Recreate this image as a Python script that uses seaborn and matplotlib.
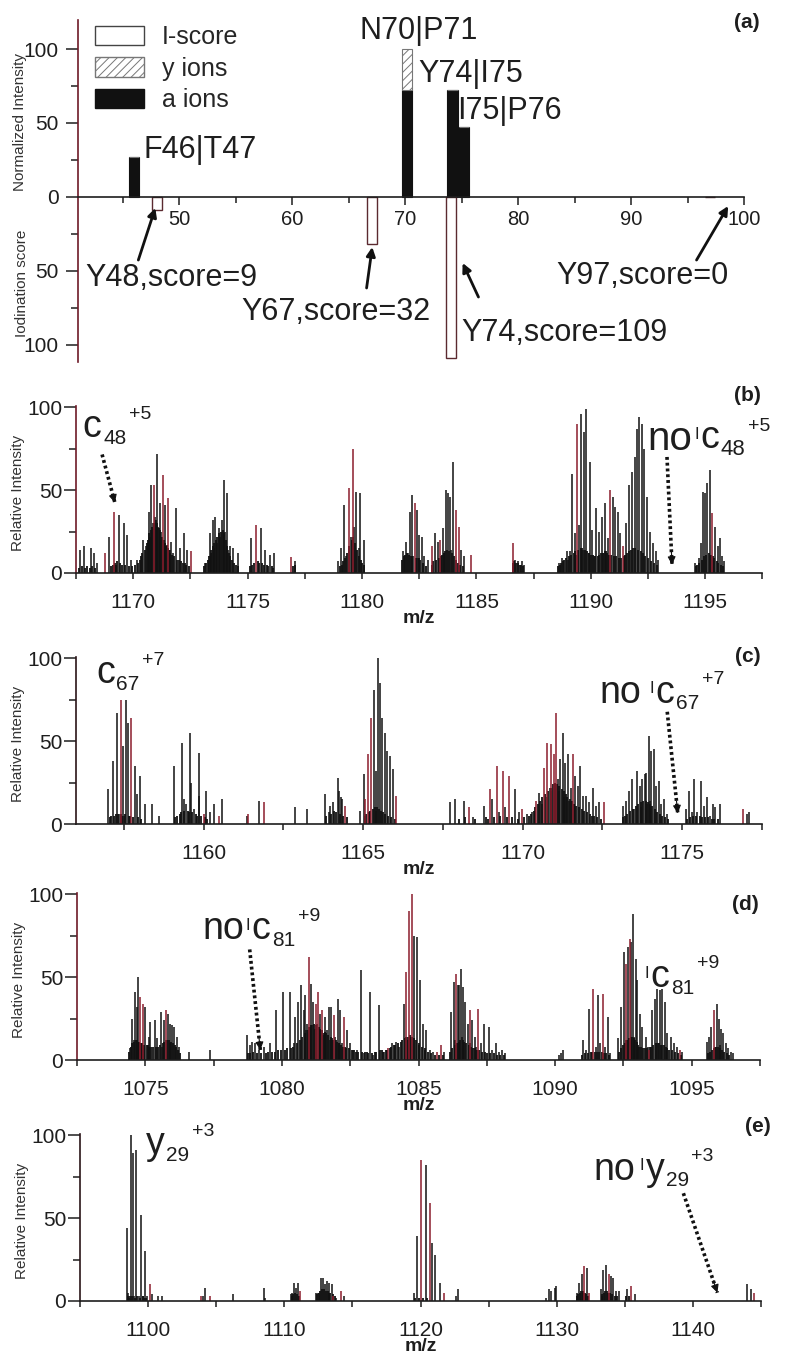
import matplotlib
matplotlib.use("Agg")
import matplotlib.pyplot as plt
import matplotlib.transforms as mtransforms
from matplotlib.patches import Patch
from matplotlib.ticker import MultipleLocator, FixedLocator
import seaborn as sns

sns.set_theme(style="ticks")
plt.rcParams["font.family"] = ["Liberation Sans", "DejaVu Sans"]
plt.rcParams["hatch.linewidth"] = 0.7

# ---------------- data : panel (a) ----------------
cleavage_sites = ["F46|T47", "N70|P71", "Y74|I75", "I75|P76"]
cleavage_pos = [46.0, 70.2, 74.2, 75.2]
a_ion_int = [27, 72, 72.5, 47]
y_ion_int = [0, 28, 0, 0]
tyr_sites = ["Y48", "Y67", "Y74", "Y97"]
tyr_pos = [48.05, 67.1, 74.05, 97.0]
iod_score = [9, 32, 109, 0]

# ---------------- data : panel (b) ----------------
b_mz_k = [1167.68, 1167.83, 1168.15, 1168.27, 1168.41, 1168.95, 1169.36, 1169.58, 1169.72, 1169.91,
          1170.16, 1170.45, 1170.55, 1170.67, 1170.72, 1170.79, 1170.85, 1170.97, 1171.03, 1171.08,
          1171.15, 1171.22, 1171.35, 1171.40, 1171.48, 1171.60, 1171.66, 1171.75, 1171.88, 1172.05,
          1172.20, 1172.35, 1173.15, 1173.34, 1173.47, 1173.52, 1173.58, 1173.65, 1173.73, 1173.80,
          1173.88, 1173.96, 1174.00, 1174.10, 1174.15, 1174.21, 1174.36, 1174.56, 1175.14, 1175.58,
          1175.77, 1175.96, 1176.16, 1177.09, 1178.97, 1179.08, 1179.22, 1179.30, 1179.50, 1179.66,
          1179.75, 1179.85, 1179.92, 1180.10,
          1181.81, 1181.93, 1182.00, 1182.08, 1182.18, 1182.25, 1182.40, 1182.45, 1182.51, 1182.62,
          1182.72, 1182.88, 1183.17, 1183.30, 1183.53, 1183.60, 1183.67, 1183.78, 1183.85, 1183.90,
          1183.97, 1184.32, 1184.47, 1186.70, 1186.84, 1186.99, 1187.09, 1188.59, 1188.74, 1188.95,
          1189.00, 1189.10, 1189.20, 1189.29, 1189.35, 1189.49, 1189.59, 1189.65, 1189.71, 1189.80,
          1189.90, 1189.97, 1190.07, 1190.15, 1190.24, 1190.38, 1190.48, 1190.55, 1190.63, 1190.75,
          1190.95, 1191.07, 1191.18, 1191.29, 1191.55, 1191.69, 1191.81, 1191.91, 1192.01, 1192.12,
          1192.23, 1192.33, 1192.45, 1192.57, 1192.71, 1192.83, 1192.92, 1194.56, 1194.71, 1194.81,
          1194.90, 1195.00, 1195.10, 1195.22, 1195.44, 1195.54, 1195.63, 1195.73, 1195.80]
b_int_k = [14, 16, 15, 12, 6, 22, 35, 30, 23, 8,
           8, 20, 16, 37, 22, 53, 30, 34, 72, 28,
           42, 25, 20, 41, 17, 14, 19, 12, 39, 15,
           24, 14, 6, 24, 32, 15, 34, 18, 27, 22,
           32, 56, 25, 48, 14, 16, 15, 12, 21, 27,
           14, 11, 12, 7, 7, 15, 41, 10, 22, 28,
           49, 15, 48, 20,
           13, 19, 12, 37, 47, 10, 38, 9, 23, 22,
           10, 8, 24, 19, 27, 12, 50, 48, 46, 14,
           67, 14, 10, 8, 7, 7, 5, 6, 9, 13,
           8, 13, 60, 24, 11, 29, 96, 14, 85, 99,
           12, 67, 26, 10, 39, 25, 34, 12, 42, 21,
           46, 40, 37, 24, 30, 53, 61, 70, 87, 94,
           90, 75, 46, 25, 18, 13, 8, 6, 9, 18,
           49, 48, 54, 62, 28, 16, 21, 10, 7]
b_mz_r = [1168.75, 1169.17, 1170.89, 1171.30, 1171.54, 1172.52, 1175.38, 1176.91, 1179.41, 1179.59,
          1182.30, 1183.08, 1183.42, 1184.09, 1184.22, 1184.76, 1186.59, 1189.39, 1190.85, 1191.39,
          1195.31]
b_int_r = [12, 37, 53, 59, 45, 13, 29, 9.5, 51, 75,
           42, 16, 20, 38, 28, 11, 18, 90, 50, 16,
           36]
# dense low-level signal under the isotope clusters of (b)
b_base_mz = [1167.65, 1167.75, 1167.90, 1168.00, 1168.10, 1168.20, 1168.35,
             1169.05, 1169.10, 1169.20, 1169.25, 1169.30, 1169.42, 1169.50, 1169.65, 1169.80, 1169.95,
             1170.10, 1170.20, 1170.30, 1170.35, 1170.40, 1170.50, 1170.60, 1170.63, 1170.70, 1170.76,
             1170.82, 1170.92, 1171.00, 1171.05, 1171.12, 1171.18, 1171.26, 1171.32, 1171.38, 1171.44,
             1171.50, 1171.57, 1171.63, 1171.70, 1171.80, 1171.92, 1172.00, 1172.10, 1172.18, 1172.25,
             1172.30, 1172.42,
             1173.10, 1173.20, 1173.25, 1173.30, 1173.38, 1173.42, 1173.50, 1173.55, 1173.62, 1173.68,
             1173.76, 1173.83, 1173.92, 1173.99, 1174.05, 1174.12, 1174.18, 1174.25, 1174.30, 1174.40,
             1174.48, 1174.60,
             1175.10, 1175.20, 1175.30, 1175.45, 1175.52, 1175.65, 1175.70, 1175.85, 1175.90, 1176.05,
             1176.10, 1177.00, 1177.05,
             1179.05, 1179.12, 1179.18, 1179.25, 1179.35, 1179.45, 1179.55, 1179.62, 1179.70, 1179.80,
             1179.88, 1179.95, 1180.02, 1180.07,
             1181.75, 1181.85, 1181.90, 1181.97, 1182.05, 1182.12, 1182.20, 1182.35, 1182.48, 1182.55,
             1182.68, 1182.80,
             1183.05, 1183.12, 1183.22, 1183.35, 1183.45, 1183.50, 1183.58, 1183.64, 1183.72, 1183.82,
             1183.93, 1184.02, 1184.12, 1184.20, 1184.28, 1184.40,
             1186.62, 1186.66, 1186.75, 1186.80, 1186.90, 1186.95, 1187.05,
             1188.55, 1188.65, 1188.70, 1188.80, 1188.85, 1188.90, 1189.05, 1189.15, 1189.25, 1189.32,
             1189.45, 1189.55, 1189.62, 1189.75, 1189.85, 1189.93, 1190.02, 1190.10, 1190.20, 1190.30,
             1190.35, 1190.43, 1190.52, 1190.60, 1190.68, 1190.72, 1190.80, 1190.90, 1191.00, 1191.12,
             1191.22, 1191.33, 1191.45, 1191.50, 1191.60, 1191.65, 1191.75, 1191.85, 1191.95, 1192.05,
             1192.18, 1192.28, 1192.38, 1192.50, 1192.62, 1192.75, 1192.88,
             1194.60, 1194.65, 1194.75, 1194.85, 1194.95, 1195.05, 1195.15, 1195.27, 1195.35, 1195.40,
             1195.50, 1195.58, 1195.68, 1195.76]
b_base_int = [3, 4, 3, 4, 3, 4, 3,
              4, 5, 6, 5, 7, 6, 5, 5, 4, 4,
              5, 6, 8, 10, 12, 14, 18, 20, 24, 26,
              28, 30, 32, 30, 27, 26, 22, 20, 18, 16,
              15, 14, 12, 11, 10, 8, 8, 7, 6, 6,
              5, 4,
              4, 6, 8, 10, 12, 14, 16, 18, 20, 22,
              24, 25, 26, 24, 20, 16, 12, 10, 8, 6,
              5, 4,
              4, 5, 6, 7, 6, 6, 5, 5, 4, 4,
              3, 4, 5,
              4, 5, 7, 9, 12, 16, 20, 22, 18, 14,
              10, 8, 6, 5,
              8, 10, 11, 12, 11, 10, 10, 9, 9, 8,
              6, 4,
              5, 7, 8, 9, 10, 11, 12, 13, 14, 13,
              12, 10, 8, 6, 5, 4,
              6, 7, 6, 6, 5, 5, 4,
              4, 5, 6, 7, 8, 9, 10, 11, 12, 13,
              14, 15, 15, 14, 13, 12, 11, 11, 10, 10,
              11, 12, 12, 13, 13, 12, 11, 11, 10, 10,
              9, 9, 10, 11, 12, 13, 14, 15, 15, 14,
              13, 12, 10, 9, 7, 6, 5,
              4, 5, 6, 8, 10, 11, 12, 11, 10, 9,
              7, 6, 5, 4]

# ---------------- data : panel (c) ----------------
c_mz_k = [1157.00, 1157.15, 1157.28, 1157.35, 1157.47, 1157.50, 1157.58, 1157.62, 1157.86, 1157.91,
          1158.02, 1158.17, 1158.38, 1158.59, 1159.08, 1159.32, 1159.37, 1159.46, 1159.58, 1159.61,
          1159.69, 1159.84, 1159.87, 1160.08, 1160.19, 1160.34, 1160.58, 1161.36, 1161.72, 1162.85,
          1163.24, 1163.79, 1163.92, 1163.97, 1164.06, 1164.20, 1164.23, 1164.31, 1164.35, 1164.89,
          1165.02, 1165.33, 1165.40, 1165.41, 1165.47, 1165.52, 1165.59, 1165.70, 1165.75, 1165.83,
          1165.94, 1167.73, 1167.87, 1168.15, 1168.45, 1168.78, 1169.04, 1169.25, 1169.46, 1169.77,
          1169.88, 1170.14, 1170.29, 1170.52, 1170.60, 1170.75, 1170.85, 1170.90, 1171.00, 1171.11,
          1171.15, 1171.18, 1171.27, 1171.30, 1171.34, 1171.42, 1171.45, 1171.50, 1171.60, 1171.65,
          1171.73, 1171.81, 1171.89, 1171.97, 1172.08, 1172.21, 1172.29, 1172.38, 1173.13, 1173.23,
          1173.32, 1173.41, 1173.50, 1173.59, 1173.67, 1173.70, 1173.74, 1173.82, 1173.88, 1173.90,
          1173.95, 1174.00, 1174.03, 1174.11, 1174.18, 1174.26, 1174.34, 1174.44, 1174.52, 1175.13,
          1175.21, 1175.30, 1175.38, 1175.46, 1175.59, 1175.67, 1175.78, 1175.86, 1175.97, 1176.04,
          1176.18, 1177.02, 1177.08]
c_int_k = [21, 38, 67, 6, 47, 5, 75, 61, 35, 18,
           29, 12, 12, 5, 35, 49, 15, 12, 55, 25,
           9, 43, 17, 20, 7, 12, 15, 5, 14, 10,
           9, 18, 7, 11, 13, 28, 20, 16, 15, 8,
           30, 81, 8, 32, 100, 85, 64, 55, 44, 41,
           33, 13, 15, 14, 4, 11, 15, 7, 10, 21,
           7, 6, 7, 19, 12, 16, 22, 20, 24, 27,
           20, 39, 55, 16, 37, 42, 14, 22, 12, 29,
           23, 35, 17, 17, 13, 22, 11, 13, 11, 14,
           20, 27, 9, 32, 23, 10, 27, 30, 31, 12,
           53, 14, 44, 45, 23, 26, 12, 15, 6, 9,
           20, 7, 27, 7, 26, 11, 16, 5, 12, 10,
           12, 6, 7]
c_mz_r = [1157.42, 1157.72, 1160.00, 1160.47, 1161.40, 1161.88, 1164.44, 1165.07, 1165.14, 1165.25,
          1166.04, 1168.33, 1168.97, 1169.18, 1169.37, 1169.57, 1169.98, 1170.42, 1170.66, 1170.77,
          1170.89, 1170.97, 1171.05, 1171.57, 1172.54, 1176.91]
c_int_r = [75, 64, 6, 5, 6, 13, 11, 15, 42, 64,
           17, 10, 21, 35, 32, 29, 9, 14, 34, 49,
           48, 42, 67, 42, 13, 9]
c_base_mz = [1157.05, 1157.10, 1157.20, 1157.25, 1157.32, 1157.40, 1157.45, 1157.55, 1157.65, 1157.70,
             1157.80, 1157.95, 1158.05,
             1159.10, 1159.15, 1159.25, 1159.30, 1159.40, 1159.50, 1159.55, 1159.65, 1159.75, 1159.80,
             1159.93, 1160.05, 1160.12,
             1163.85, 1164.00, 1164.10, 1164.15, 1164.27, 1164.38, 1164.48,
             1165.05, 1165.10, 1165.18, 1165.22, 1165.30, 1165.37, 1165.44, 1165.50, 1165.56, 1165.63,
             1165.67, 1165.78, 1165.88, 1166.00,
             1168.00, 1168.20, 1168.50, 1168.85, 1168.90, 1169.10, 1169.30, 1169.50, 1169.65, 1169.85,
             1170.05,
             1170.20, 1170.25, 1170.35, 1170.40, 1170.47, 1170.55, 1170.62, 1170.70, 1170.80, 1170.88,
             1170.95, 1171.02, 1171.08, 1171.14, 1171.22, 1171.28, 1171.36, 1171.40, 1171.48, 1171.55,
             1171.62, 1171.68, 1171.76, 1171.85, 1171.93, 1172.02, 1172.12, 1172.18, 1172.25, 1172.33,
             1172.45,
             1173.15, 1173.20, 1173.28, 1173.35, 1173.45, 1173.55, 1173.62, 1173.72, 1173.78, 1173.85,
             1173.92, 1173.98, 1174.06, 1174.14, 1174.22, 1174.30, 1174.38, 1174.47, 1174.56,
             1175.15, 1175.25, 1175.35, 1175.42, 1175.55, 1175.62, 1175.72, 1175.82, 1175.92, 1176.00,
             1176.12]
c_base_int = [4, 5, 5, 6, 6, 6, 5, 6, 5, 5,
              4, 4, 3,
              4, 5, 6, 7, 8, 8, 7, 7, 6, 5,
              5, 4, 3,
              5, 6, 8, 7, 6, 5, 4,
              5, 6, 7, 8, 9, 10, 10, 9, 8, 7,
              6, 5, 4, 3,
              3, 4, 3, 4, 3, 4, 5, 4, 4, 3,
              4,
              5, 6, 8, 10, 12, 14, 16, 18, 20, 22,
              24, 25, 24, 23, 21, 20, 18, 16, 15, 14,
              12, 11, 10, 9, 8, 7, 6, 5, 5, 4,
              3,
              4, 5, 6, 8, 9, 11, 12, 13, 14, 14,
              13, 12, 11, 9, 7, 6, 5, 4, 3,
              3, 4, 5, 5, 5, 4, 4, 4, 3, 3,
              3]

# ---------------- data : panel (d) ----------------
d_mz_k = [1074.43, 1074.53, 1074.60, 1074.63, 1074.70, 1074.73, 1074.80, 1074.90, 1075.00, 1075.12,
          1075.18, 1075.34, 1075.43, 1075.57, 1075.60, 1075.70, 1075.75, 1075.82, 1075.89, 1075.90,
          1075.98, 1076.06, 1076.16, 1076.23, 1076.59, 1077.36, 1078.72, 1078.82, 1078.91, 1079.03,
          1079.15, 1079.33, 1079.55, 1079.80, 1080.04, 1080.29, 1080.44, 1080.49, 1080.59, 1080.70,
          1080.80, 1080.86, 1080.90, 1080.92, 1081.00, 1081.07, 1081.10, 1081.14, 1081.20, 1081.30,
          1081.41, 1081.50, 1081.59, 1081.65, 1081.71, 1081.75, 1081.81, 1081.95, 1082.04, 1082.14,
          1082.20, 1082.39, 1082.50, 1082.61, 1082.75, 1082.88, 1083.00, 1083.21, 1083.35, 1083.55,
          1083.75, 1084.04, 1084.19, 1084.30, 1084.46, 1084.60, 1084.70, 1084.85, 1084.95, 1085.07,
          1085.17, 1085.29, 1085.42, 1085.54, 1085.93, 1086.20, 1086.29, 1086.35, 1086.45, 1086.50,
          1086.56, 1086.60, 1086.64, 1086.72, 1086.80, 1086.90, 1086.97, 1087.05, 1087.10, 1087.27,
          1087.39, 1087.58, 1087.70, 1087.82, 1087.95, 1088.07, 1088.17, 1090.14, 1090.23, 1090.30,
          1091.03, 1091.12, 1091.24, 1091.48, 1091.57, 1091.66, 1091.84, 1091.93, 1092.02, 1092.32,
          1092.43, 1092.52, 1092.60, 1092.67, 1092.78, 1092.86, 1092.90, 1092.95, 1093.01, 1093.11,
          1093.19, 1093.32, 1093.40, 1093.56, 1093.64, 1093.70, 1093.74, 1093.84, 1093.90, 1093.93,
          1094.01, 1094.11, 1094.23, 1094.35, 1094.45, 1094.66, 1095.55, 1095.63, 1095.72, 1095.85,
          1095.92, 1096.00, 1096.05, 1096.09, 1096.16, 1096.25, 1096.34, 1096.43, 1096.52]
d_int_k = [7, 25, 12, 41, 32, 50, 10, 9, 32, 14,
           23, 24, 13, 29, 8, 24, 12, 28, 22, 10,
           21, 20, 14, 8, 5, 6, 15, 9, 11, 10,
           6, 8, 10, 30, 41, 41, 10, 26, 35, 45,
           30, 39, 18, 22, 20, 46, 21, 35, 19, 22,
           28, 15, 26, 18, 32, 12, 32, 14, 37, 30,
           10, 18, 10, 6, 6, 54, 4, 41, 3, 33,
           5, 10, 11, 8, 34, 12, 14, 75, 74, 48,
           22, 18, 6, 5, 5, 29, 47, 12, 45, 45,
           55, 14, 44, 35, 22, 10, 24, 14, 8, 10,
           22, 20, 6, 10, 5, 6, 4, 3, 4, 6,
           12, 6, 31, 8, 39, 10, 8, 26, 4, 13,
           32, 65, 12, 68, 71, 88, 14, 61, 48, 28,
           20, 14, 8, 30, 37, 10, 43, 42, 9, 43,
           35, 16, 14, 10, 8, 5, 11, 14, 20, 8,
           34, 25, 9, 19, 16, 10, 7, 5, 4]
d_mz_r = [1074.82, 1074.92, 1075.77, 1080.98, 1081.23, 1081.31, 1081.47, 1081.90, 1082.26, 1083.90,
          1084.56, 1084.65, 1084.77, 1085.66, 1085.81, 1086.37, 1086.87, 1087.17, 1091.40, 1091.76,
          1092.58, 1092.74, 1093.45, 1094.57, 1095.82]
d_int_r = [38, 34, 30, 62, 34, 41, 30, 27, 26, 7,
           53, 90, 100, 5, 9, 52, 30, 31, 43, 40,
           58, 73, 6, 6, 30]
d_base_mz = [1074.40, 1074.47, 1074.50, 1074.57, 1074.65, 1074.68, 1074.75, 1074.78, 1074.85, 1074.88,
             1074.95, 1075.05, 1075.10, 1075.15, 1075.22, 1075.28, 1075.38, 1075.47, 1075.52, 1075.64,
             1075.67, 1075.79, 1075.85, 1075.94, 1076.02, 1076.10, 1076.14, 1076.20, 1076.27,
             1078.75, 1078.85, 1078.95, 1079.10, 1079.25, 1079.40, 1079.50, 1079.65, 1079.75, 1079.85,
             1079.95, 1080.10, 1080.20, 1080.35, 1080.40, 1080.55, 1080.65, 1080.75, 1080.83, 1080.95,
             1081.02, 1081.05, 1081.17, 1081.25, 1081.35, 1081.38, 1081.45, 1081.53, 1081.56, 1081.62,
             1081.68, 1081.78, 1081.85, 1081.88, 1081.98, 1082.00, 1082.08, 1082.10, 1082.18, 1082.23,
             1082.30, 1082.35, 1082.45, 1082.55, 1082.65, 1082.70, 1082.80, 1082.95, 1083.05, 1083.10,
             1083.15, 1083.28, 1083.40, 1083.45, 1083.60, 1083.65, 1083.70, 1083.80, 1083.85, 1083.95,
             1084.00, 1084.10, 1084.15, 1084.25, 1084.35, 1084.40, 1084.50, 1084.55, 1084.62, 1084.68,
             1084.75, 1084.82, 1084.90, 1085.00, 1085.03, 1085.12, 1085.22, 1085.25, 1085.35, 1085.47,
             1085.60, 1085.75, 1085.88,
             1086.15, 1086.24, 1086.33, 1086.40, 1086.48, 1086.53, 1086.62, 1086.68, 1086.75, 1086.84,
             1086.93, 1087.00, 1087.08, 1087.15, 1087.22, 1087.32, 1087.45, 1087.50, 1087.62, 1087.75,
             1087.88, 1088.00, 1088.12,
             1091.00, 1091.10, 1091.20, 1091.30, 1091.35, 1091.45, 1091.52, 1091.60, 1091.70, 1091.80,
             1091.88, 1091.97,
             1092.35, 1092.40, 1092.47, 1092.55, 1092.63, 1092.70, 1092.76, 1092.82, 1092.88, 1092.92,
             1092.98, 1093.05, 1093.08, 1093.15, 1093.23, 1093.28, 1093.36, 1093.48, 1093.52, 1093.60,
             1093.68, 1093.78, 1093.82, 1093.88, 1093.97, 1094.05, 1094.08, 1094.17, 1094.28, 1094.40,
             1094.50, 1094.60,
             1095.58, 1095.68, 1095.75, 1095.80, 1095.88, 1095.95, 1096.02, 1096.12, 1096.20, 1096.30,
             1096.38]
d_base_int = [5, 8, 10, 11, 12, 12, 11, 11, 10, 10,
              9, 9, 9, 8, 8, 8, 8, 8, 9, 10,
              11, 12, 12, 11, 10, 9, 8, 6, 4,
              4, 4, 5, 4, 4, 4, 5, 5, 5, 6,
              6, 6, 7, 7, 8, 10, 12, 14, 16, 18,
              20, 21, 22, 21, 20, 19, 18, 16, 17, 16,
              15, 14, 13, 12, 12, 11, 10, 10, 9, 8,
              8, 7, 7, 6, 6, 5, 5, 5, 5, 5,
              4, 4, 5, 5, 6, 6, 5, 6, 6, 7,
              8, 9, 9, 10, 11, 12, 13, 14, 14, 15,
              14, 13, 12, 10, 9, 8, 7, 6, 5, 4,
              3, 3, 3,
              5, 7, 9, 10, 11, 12, 12, 11, 10, 9,
              8, 7, 7, 6, 6, 5, 5, 4, 4, 4,
              3, 3, 3,
              3, 4, 4, 5, 5, 5, 5, 5, 5, 4,
              4, 3,
              5, 7, 9, 10, 12, 13, 14, 14, 13, 12,
              11, 9, 8, 8, 7, 7, 7, 8, 8, 9,
              10, 10, 10, 9, 9, 8, 7, 6, 6, 5,
              4, 3,
              4, 5, 6, 7, 8, 8, 7, 6, 5, 4,
              3]

# ---------------- data : panel (e) ----------------
e_mz_k = [1098.43, 1098.55, 1098.78, 1098.92, 1099.00, 1099.14, 1099.30, 1099.51, 1099.65, 1099.78,
          1099.90, 1100.30, 1100.76, 1101.00, 1104.00, 1104.19, 1106.20, 1108.48, 1108.60, 1110.49,
          1110.60, 1110.74, 1110.86, 1110.98, 1112.33, 1112.50, 1112.70, 1112.87, 1113.00, 1113.14,
          1113.31, 1113.48, 1113.80, 1114.41, 1119.51, 1119.74, 1120.37, 1120.82, 1121.08, 1121.46,
          1122.60, 1122.76, 1129.20, 1129.40, 1129.59, 1129.85, 1129.96, 1131.46, 1131.64, 1131.83,
          1132.20, 1133.25, 1133.43, 1133.62, 1133.99, 1134.14, 1134.37, 1134.55, 1135.19, 1135.75,
          1143.96, 1144.25]
e_int_k = [44, 5, 100, 89, 3, 91, 3, 52, 3, 30,
           3, 4, 3, 3, 3, 8, 4, 8, 2, 4,
           5, 11, 8, 11, 5, 5, 14, 14, 10, 12,
           11, 10, 2, 3, 5, 39, 82, 35, 28, 11,
           3, 7, 2, 7, 6, 8, 9, 5, 11, 16,
           20, 7, 19, 22, 15, 14, 6, 6, 7, 4,
           10, 7]
e_mz_r = [1100.12, 1103.87, 1104.53, 1111.15, 1113.60, 1114.17, 1120.07, 1120.71, 1121.75, 1132.01,
          1132.39, 1133.81, 1135.45, 1144.51]
e_int_r = [10, 3, 3, 6, 3, 6, 85, 59, 5, 21,
           5, 16, 9, 5]
e_base_mz = [1098.50, 1098.60, 1098.70, 1098.85, 1099.05, 1099.20, 1099.40, 1099.60, 1099.70, 1099.85,
             1110.55, 1110.65, 1110.80, 1110.92, 1111.05,
             1112.40, 1112.55, 1112.62, 1112.78, 1112.93, 1113.05, 1113.20, 1113.25, 1113.38, 1113.55,
             1113.70,
             1119.60, 1119.90, 1120.20, 1120.50,
             1131.50, 1131.55, 1131.70, 1131.78, 1131.90, 1131.95, 1132.10, 1132.15, 1132.30,
             1133.30, 1133.35, 1133.50, 1133.55, 1133.70, 1133.75, 1133.90, 1134.05, 1134.25, 1134.45,
             1135.10, 1135.30]
e_base_int = [3, 2, 3, 3, 2, 3, 2, 3, 2, 2,
              3, 4, 5, 4, 3,
              4, 5, 6, 7, 7, 6, 6, 5, 5, 4,
              3,
              2, 2, 2, 2,
              3, 4, 5, 6, 6, 5, 5, 4, 3,
              3, 4, 5, 6, 6, 5, 5, 4, 3, 3,
              3, 3]

# ---------------- figure ----------------
W, H = 786, 1357
fig = plt.figure(figsize=(W / 100, H / 100), dpi=100)
fig.patch.set_facecolor("white")

def axes_px(l, r, top, bottom):
    return fig.add_axes([l / W, 1 - bottom / H, (r - l) / W, (bottom - top) / H])

BLACK = "#111111"
RED = "#8c1c2c"
MAROON = "#6e1a28"
TXT = "#1e1e1e"

# ---------- panel (a) ----------
axa = axes_px(78, 744, 20, 362)
axa.set_facecolor("white")
axa.bar(cleavage_pos, a_ion_int, width=0.9, color=BLACK, edgecolor=BLACK, lw=0.8)
axa.bar(cleavage_pos, y_ion_int, bottom=a_ion_int, width=0.9, color="white",
        edgecolor="#777777", hatch="////", lw=0.8)
axa.bar(tyr_pos, [-s for s in iod_score], width=0.9, color="white", edgecolor="#5b2a30", lw=1.0)
axa.set_xlim(41.06, 100)
axa.set_ylim(-111.5, 119.6)
sns.despine(ax=axa, top=True, right=True)
axa.spines["bottom"].set_position(("data", 0))
axa.spines["bottom"].set_color(TXT)
axa.spines["left"].set_color(MAROON)
for s in ("bottom", "left"):
    axa.spines[s].set_linewidth(1.2)
axa.xaxis.set_major_locator(MultipleLocator(10))
axa.xaxis.set_minor_locator(MultipleLocator(5))
axa.yaxis.set_major_locator(FixedLocator([-100, -50, 0, 50, 100]))
axa.yaxis.set_minor_locator(FixedLocator([-75, -25, 25, 75]))
axa.set_yticklabels(["100", "50", "0", "50", "100"])
axa.tick_params(axis="x", which="major", length=5.5, width=1.1, direction="out", pad=4,
                labelsize=14.5, colors=TXT)
axa.tick_params(axis="x", which="minor", length=4, width=1.1, direction="out", colors=TXT)
axa.tick_params(axis="y", which="major", length=8.5, width=1.1, direction="out", pad=5.5,
                labelsize=15, colors=TXT)
axa.tick_params(axis="y", which="minor", length=5, width=1.1, direction="out", colors=TXT)
axa.grid(False)

bt = mtransforms.blended_transform_factory(axa.transAxes, axa.transData)
axa.text(-0.087, 50.7, "Normalized Intensity", transform=bt, rotation=90, ha="center",
         va="center", fontsize=11, color="#333333")
axa.text(-0.084, -58, "Iodination score", transform=bt, rotation=90, ha="center",
         va="center", fontsize=11, color="#333333")

site_text_xy = [(46.9, 26.4), (66.0, 107.0), (71.2, 77.7), (74.63, 52.7)]
for name, (tx, ty) in zip(cleavage_sites, site_text_xy):
    axa.text(tx, ty, name, fontsize=22, va="baseline", ha="left", color=TXT)

score_text_xy = [(41.7, -60.3), (55.5, -83.0), (75.0, -97.0), (83.4, -58.8)]
arrow_tail = [(46.4, -42.6), (66.6, -61.5), (76.5, -67.6), (95.8, -42.6)]
arrow_head = [(47.9, -7.4), (67.1, -33.8), (75.1, -44.6), (98.6, -6.1)]
for site, sc, (tx, ty), tail, head in zip(tyr_sites, iod_score, score_text_xy, arrow_tail, arrow_head):
    axa.text(tx, ty, f"{site},score={sc}", fontsize=22, va="baseline", ha="left", color=TXT)
    axa.annotate("", xy=head, xytext=tail,
                 arrowprops=dict(arrowstyle="-|>", lw=2.0, color=BLACK, mutation_scale=13,
                                 shrinkA=0, shrinkB=0))

handles = [Patch(facecolor="white", edgecolor="#444444", lw=1.0, label="I-score"),
           Patch(facecolor="white", edgecolor="#777777", hatch="////", lw=1.0, label="y ions"),
           Patch(facecolor=BLACK, edgecolor=BLACK, label="a ions")]
axa.legend(handles=handles, loc="upper left", bbox_to_anchor=(0.0255, 0.985), frameon=False,
           fontsize=18, handlelength=1.95, handleheight=0.85, handletextpad=0.72,
           labelspacing=0.3, borderpad=0, borderaxespad=0)

# ---------- spectra panels ----------
def spectrum_axis(ax, xlim, major, minor, left_color):
    ax.set_facecolor("white")
    ax.set_xlim(*xlim)
    ax.set_ylim(0, 100.5)
    sns.despine(ax=ax, top=True, right=True)
    ax.spines["left"].set_color(left_color)
    ax.spines["bottom"].set_color(TXT)
    for s in ("bottom", "left"):
        ax.spines[s].set_linewidth(1.2)
    ax.xaxis.set_major_locator(MultipleLocator(major))
    ax.xaxis.set_minor_locator(MultipleLocator(minor))
    ax.yaxis.set_major_locator(FixedLocator([0, 50, 100]))
    ax.yaxis.set_minor_locator(FixedLocator([25, 75]))
    ax.tick_params(axis="x", which="major", length=4.5, width=1.1, direction="out", pad=10,
                   labelsize=15, colors=TXT)
    ax.tick_params(axis="x", which="minor", length=4.5, width=1.1, direction="out", colors=TXT)
    ax.tick_params(axis="y", which="major", length=8.5, width=1.1, direction="out", pad=1.5,
                   labelsize=15, colors=TXT)
    ax.tick_params(axis="y", which="minor", length=5, width=1.1, direction="out", colors=TXT)
    ax.grid(False)
    ax.xaxis.set_major_formatter(plt.FuncFormatter(lambda v, p: f"{v:.0f}"))
    ax.set_xlabel("m/z", fontsize=14, fontweight="bold", color=TXT)
    ax.xaxis.set_label_coords(0.5, -0.222)
    ax.text(-0.085, 0.48, "Relative Intensity", transform=ax.transAxes, rotation=90,
            ha="center", va="center", fontsize=11, color="#333333")


def sticks(ax, mz_k, in_k, mz_r, in_r, mz_base, in_base):
    ax.vlines(mz_base, 0, in_base, colors=BLACK, lw=1.3)
    ax.vlines(mz_k, 0, in_k, colors=BLACK, lw=1.1)
    ax.vlines(mz_r, 0, in_r, colors=RED, lw=1.1)


def chain(ax, x, y, parts):
    """parts: (text, size, rise_pt, gap_pt); rise relative to the main baseline."""
    prev = None
    prev_rise = 0.0
    prev_size = 0.0
    for text, size, rise, gap in parts:
        if prev is None:
            t = ax.text(x, y, text, fontsize=size, va="baseline", ha="left", color=TXT)
        else:
            dy = rise - (prev_rise - 0.212 * prev_size)
            t = ax.annotate(text, xy=(1, 0), xycoords=prev, xytext=(gap, dy),
                            textcoords="offset points", fontsize=size, va="baseline",
                            ha="left", color=TXT)
        prev, prev_rise, prev_size = t, rise, size
    return prev


def dotted_arrow(ax, tail, head):
    ax.plot([tail[0], head[0]], [tail[1], head[1]], ls=(0, (0.8, 0.8)), lw=2.6, color=BLACK,
            solid_capstyle="butt")
    fx = head[0] - 0.12 * (head[0] - tail[0])
    fy = head[1] - 0.12 * (head[1] - tail[1])
    ax.annotate("", xy=head, xytext=(fx, fy),
                arrowprops=dict(arrowstyle="-|>", lw=0.8, color=BLACK, mutation_scale=12,
                                shrinkA=0, shrinkB=0))

BIG, SUB, SUP, IOD = 27, 15, 14, 12

# (b)
axb = axes_px(76, 762.4, 406.4, 573)
sticks(axb, b_mz_k, b_int_k, b_mz_r, b_int_r, b_base_mz, b_base_int)
spectrum_axis(axb, (1167.5, 1197.5), 5, 2.5, MAROON)
chain(axb, 1167.8, 82, [("c", BIG, 0, 0), ("48", SUB, -5, 1), ("+5", SUP, 13, 2)])
chain(axb, 1192.46, 74.5, [("no", 29, 0, 0), ("I", IOD, 7, 2), ("c", BIG, 0, 1),
                           ("48", 16, -5, 1), ("+5", SUP, 13, 2)])
dotted_arrow(axb, (1168.64, 71.5), (1169.2, 42.4))
dotted_arrow(axb, (1193.33, 70), (1193.55, 5))

# (c)
axc = axes_px(76, 762, 657.4, 824)
sticks(axc, c_mz_k, c_int_k, c_mz_r, c_int_r, c_base_mz, c_base_int)
spectrum_axis(axc, (1156, 1177.5), 5, 2.5, "#2a1418")
chain(axc, 1156.63, 85, [("c", BIG, 0, 0), ("67", SUB, -5, 1), ("+7", SUP, 13, 2)])
chain(axc, 1172.40, 73, [("no", BIG, 0, 0), ("I", IOD, 7, 6), ("c", BIG, 0, 1),
                         ("67", SUB, -5, 1), ("+7", SUP, 13, 2)])
dotted_arrow(axc, (1174.53, 67.7), (1174.86, 6.4))

# (d)
axd = axes_px(77, 760, 893.4, 1060)
sticks(axd, d_mz_k, d_int_k, d_mz_r, d_int_r, d_base_mz, d_base_int)
spectrum_axis(axd, (1072.5, 1097.5), 5, 2.5, MAROON)
chain(axd, 1077.09, 72.7, [("no", BIG, 0, 0), ("I", IOD, 7, 1), ("c", BIG, 0, 1),
                           ("81", SUB, -5, 1), ("+9", SUP, 13, 2)])
chain(axd, 1093.28, 49.7, [("I", IOD, 7, 0), ("c", BIG, 0, 1), ("81", SUB, -5, 1),
                           ("+9", SUP, 13, 2)])
dotted_arrow(axd, (1078.82, 66.7), (1079.21, 6))

# (e)
axe = axes_px(80, 761, 1134.4, 1301)
sticks(axe, e_mz_k, e_int_k, e_mz_r, e_int_r, e_base_mz, e_base_int)
spectrum_axis(axe, (1095, 1145), 10, 5, "#2a1418")
chain(axe, 1099.85, 88.5, [("y", BIG, 0, 0), ("29", SUB, -5, 1), ("+3", SUP, 13, 2)])
chain(axe, 1132.7, 73, [("no", BIG, 0, 0), ("I", IOD, 7, 3), ("y", BIG, 0, 1),
                        ("29", SUB, -5, 1), ("+3", SUP, 13, 2)])
dotted_arrow(axe, (1139.3, 65), (1141.8, 5))

# panel letters
for lab, (px, py) in zip(["(a)", "(b)", "(c)", "(d)", "(e)"],
                         [(747, 22), (747, 396), (748, 657), (745, 904), (758, 1127)]):
    fig.text(px / W, 1 - py / H, lab, fontsize=15, fontweight="bold", ha="center",
             va="center", color=TXT)

fig.savefig("out.png", dpi=100, facecolor="white")
